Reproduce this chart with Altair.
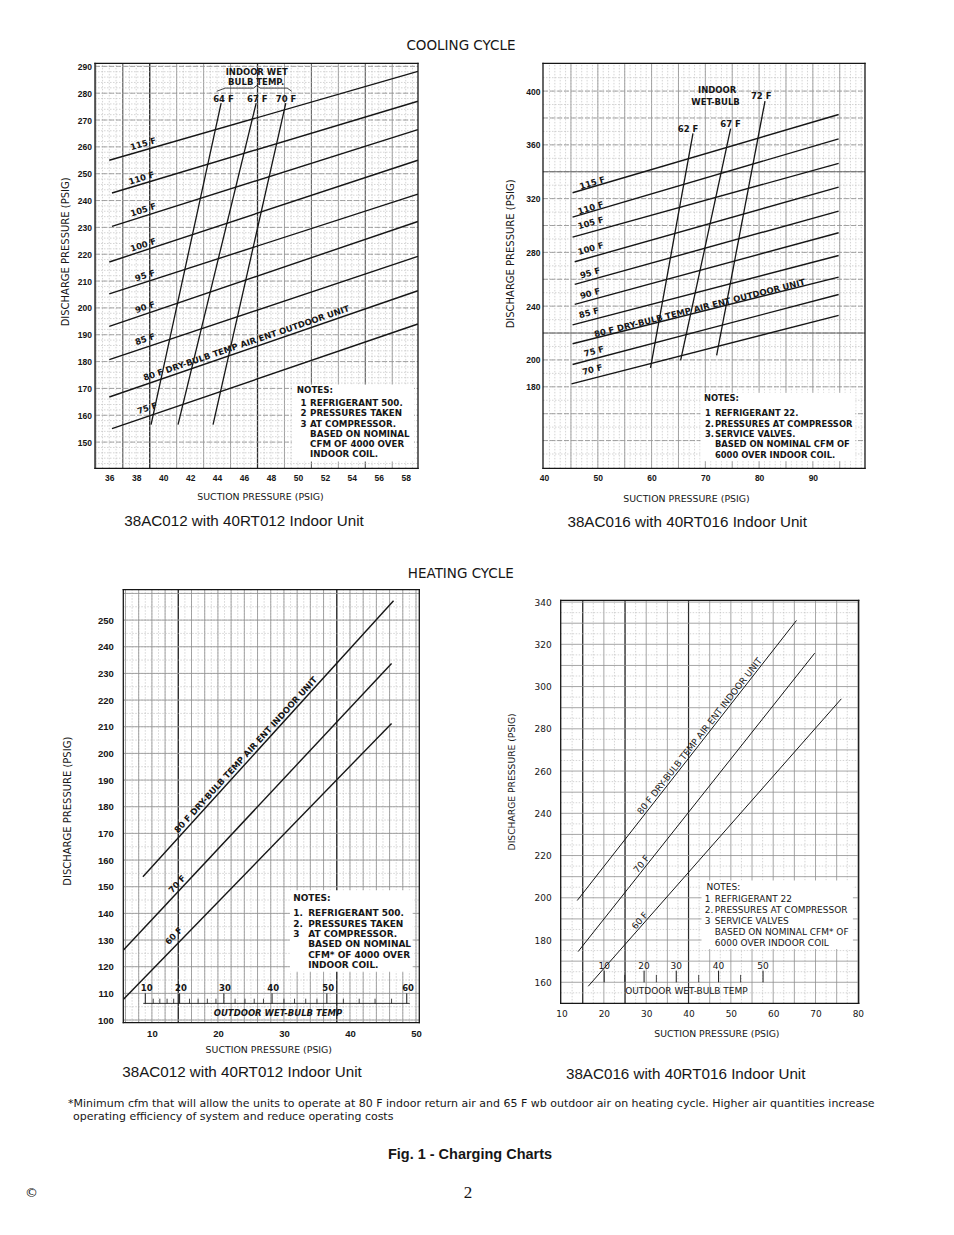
import altair as alt
import pandas as pd

INK = "#161616"
G_MINOR = "#b9b9b9"
G_MID = "#8f8f8f"
G_HEAVY = "#2a2a2a"

# ===================== DATA =====================
# ---- Cooling cycle, 38AC012 with 40RT012 ----
a_xticks = [36, 38, 40, 42, 44, 46, 48, 50, 52, 54, 56, 58]
a_yticks = [150, 160, 170, 180, 190, 200, 210, 220, 230, 240, 250, 260, 270, 280, 290]
a_db_name = ["115 F", "110 F", "105 F", "100 F", "95 F", "90 F", "85 F", "80 F", "75 F"]
a_db_x0 = [36.0, 36.2, 36.2, 36.0, 36.0, 36.0, 36.0, 36.0, 36.2]
a_db_y0 = [255.0, 242.8, 230.4, 217.1, 205.2, 193.1, 180.7, 166.8, 155.0]
a_db_x1 = [58.9, 58.9, 58.9, 58.9, 58.9, 58.9, 58.9, 58.9, 58.9]
a_db_y1 = [288.1, 277.0, 266.4, 255.0, 242.4, 232.2, 219.2, 206.4, 194.0]
a_wb_name = ["64 F", "67 F", "70 F"]
a_wb_x0 = [39.1, 41.1, 43.7]
a_wb_y0 = [156.5, 156.5, 156.5]
a_wb_x1 = [44.3, 46.9, 49.1]
a_wb_y1 = [276.3, 276.3, 276.3]
a_tag_text = ["115 F", "110 F", "105 F", "100 F", "95 F", "90 F", "85 F",
              "80 F DRY-BULB TEMP AIR ENT OUTDOOR UNIT", "75 F"]
a_tag_x = [38.52, 38.40, 38.52, 38.52, 38.65, 38.65, 38.65, 46.17, 38.82]
a_tag_y = [261.2, 248.4, 236.6, 223.5, 212.1, 200.3, 188.4, 186.9, 162.7]
a_tag_ang = [344.0, 343.4, 342.5, 341.8, 342.2, 341.3, 341.6, 341.2, 341.2]
a_wbtag_x = [44.47, 46.99, 49.12]
a_wbtag_y = [277.8, 277.8, 277.8]
a_head_text = ["INDOOR WET", "BULB TEMP."]
a_head_x = [46.94, 46.90]
a_head_y = [287.8, 284.0]
a_brace_x = [43.97, 44.6, 46.7, 46.94, 47.2, 49.2, 49.54]
a_brace_y = [280.7, 281.9, 281.9, 282.8, 281.9, 281.9, 280.7]
a_note_num = ["1", "2", "", "3", "", ""]
a_note_txt = ["REFRIGERANT 500.", "PRESSURES TAKEN", "AT COMPRESSOR.",
              "BASED ON NOMINAL", "CFM OF 4000 OVER", "INDOOR COIL."]

# ---- Cooling cycle, 38AC016 with 40RT016 ----
b_xticks = [40, 50, 60, 70, 80, 90]
b_yticks = [180, 200, 240, 280, 320, 360, 400]
b_db_name = ["115 F", "110 F", "105 F", "100 F", "95 F", "90 F", "85 F", "80 F", "75 F", "70 F"]
b_db_x0 = [45.3, 45.3, 45.3, 45.7, 45.7, 45.7, 45.3, 45.3, 45.3, 45.1]
b_db_y0 = [324.4, 306.2, 291.4, 273.0, 256.2, 241.3, 226.1, 212.0, 196.6, 182.2]
b_db_x1 = [94.8, 94.8, 94.8, 94.8, 94.8, 94.8, 94.8, 94.8, 94.8, 94.8]
b_db_y1 = [382.6, 364.5, 346.2, 328.6, 310.7, 294.6, 277.7, 261.6, 248.7, 233.1]
b_wb_name = ["62 F", "67 F", "72 F"]
b_wb_x0 = [59.8, 65.4, 72.1]
b_wb_y0 = [194.1, 199.6, 203.3]
b_wb_x1 = [67.7, 74.7, 81.1]
b_wb_y1 = [368.5, 372.0, 392.6]
b_tag_text = ["115 F", "110 F", "105 F", "100 F", "95 F", "90 F", "85 F",
              "80 F  DRY-BULB TEMP AIR ENT OUTDOOR UNIT", "75 F", "70 F"]
b_tag_x = [48.98, 48.67, 48.67, 48.67, 48.55, 48.55, 48.36, 68.93, 49.29, 48.98]
b_tag_y = [331.8, 313.2, 302.0, 282.9, 264.8, 249.5, 235.1, 238.6, 206.5, 192.9]
b_tag_ang = [343.6, 343.5, 344.5, 344.2, 344.5, 344.9, 345.4, 346.0, 345.3, 345.6]
b_wbtag_x = [66.8, 74.7, 80.4]
b_wbtag_y = [372.0, 375.7, 396.3]
b_head_text = ["INDOOR", "WET-BULB"]
b_head_x = [72.2, 71.9]
b_head_y = [400.5, 392.1]
b_note_num = ["1", "2.", "", "3.", ""]
b_note_txt = ["REFRIGERANT 22.", "PRESSURES AT COMPRESSOR", "SERVICE VALVES.",
              "BASED ON NOMINAL CFM OF", "6000 OVER INDOOR COIL."]

# ---- Heating cycle, 38AC012 with 40RT012 ----
c_xticks = [10, 20, 30, 40, 50]
c_yticks = [100, 110, 120, 130, 140, 150, 160, 170, 180, 190, 200, 210, 220, 230, 240, 250]
c_db_name = ["80 F", "70 F", "60 F"]
c_db_x0 = [8.64, 5.7, 5.7]
c_db_y0 = [153.75, 126.25, 107.75]
c_db_x1 = [46.6, 46.3, 46.3]
c_db_y1 = [257.25, 233.75, 211.25]
c_tag_text = ["80 F DRY-BULB TEMP AIR ENT INDOOR UNIT", "70 F", "60 F"]
c_tag_x = [24.2, 13.8, 13.3]
c_tag_y = [199.5, 151.0, 131.6]
c_tag_ang = [312.3, 313.1, 314.2]
c_owb_text = ["10", "20", "30", "40", "50", "60"]
c_owb_x = [9.21, 14.4, 21.06, 28.37, 36.7, 48.8]
c_owb_y = [111.9, 111.9, 111.9, 111.9, 111.9, 111.9]
c_owb_tick_x = [9.0, 14.2, 20.9, 28.2, 36.5, 48.6]
c_owb_minor_x = [10.2, 11.2, 12.3, 13.3, 15.7, 17.0, 18.4, 19.7, 22.6, 24.1, 25.5, 26.9,
                 30.0, 31.6, 33.3, 35.0, 39.0, 41.4, 43.8, 46.3]
c_ruler_x = [8.7, 49.06]
c_ruler_y = [106.25, 106.25]
c_note_num = ["1.", "2.", "", "3", "", ""]
c_note_txt = ["REFRIGERANT 500.", "PRESSURES TAKEN", "AT COMPRESSOR.",
              "BASED ON NOMINAL", "CFM* OF 4000 OVER", "INDOOR COIL."]

# ---- Heating cycle, 38AC016 with 40RT016 ----
d_xticks = [10, 20, 30, 40, 50, 60, 70, 80]
d_yticks = [160, 180, 200, 220, 240, 260, 280, 300, 320, 340]
d_db_name = ["80 F", "70 F", "60 F"]
d_db_x0 = [13.7, 13.9, 16.3]
d_db_y0 = [198.7, 174.5, 158.1]
d_db_x1 = [65.5, 69.8, 76.1]
d_db_y1 = [331.3, 315.8, 294.2]
d_tag_text = ["80 F DRY-BULB TEMP AIR ENT INDOOR UNIT", "70 F", "60 F"]
d_tag_x = [42.6, 28.9, 28.5]
d_tag_y = [276.5, 216.0, 189.2]
d_tag_ang = [308.1, 308.6, 311.4]
d_owb_text = ["10", "20", "30", "40", "50"]
d_owb_x = [20.07, 29.5, 37.1, 47.1, 57.6]
d_owb_y = [167.9, 167.9, 167.9, 167.9, 167.9]
d_owb_minor_x = [24.95, 32.4, 42.4, 52.3]
d_note_num = ["1", "2.", "", "3", ""]
d_note_txt = ["REFRIGERANT 22", "PRESSURES AT COMPRESSOR", "SERVICE VALVES",
              "BASED ON NOMINAL CFM* OF", "6000 OVER INDOOR COIL"]

foot_line1 = ("*Minimum cfm that will allow the units to operate at 80 F indoor return air and "
              "65 F wb outdoor air on heating cycle. Higher air quantities increase")
foot_line2 = "operating efficiency of system and reduce operating costs"


# ===================== HELPERS =====================
def frange(a, b, s):
    n = int(round((b - a) / s))
    return [round(a + i * s, 3) for i in range(n + 1)]


def seg_frame(names, x0, y0, x1, y1):
    rows = []
    for i, n in enumerate(names):
        rows.append({"id": f"{i}-{n}", "x": x0[i], "y": y0[i], "o": 0})
        rows.append({"id": f"{i}-{n}", "x": x1[i], "y": y1[i], "o": 1})
    return pd.DataFrame(rows)


def path_frame(name, xs, ys):
    return pd.DataFrame({"id": [name] * len(xs), "x": xs, "y": ys, "o": list(range(len(xs)))})


def txt_frame(texts, xs, ys):
    return pd.DataFrame({"t": texts, "x": xs, "y": ys})


def tag_frame(t, x, y, a):
    return pd.DataFrame({"t": t, "x": x, "y": y, "a": a})


def notes_texts(head_xy, num_x, txt_x, first_y, nums, lines, font, size, weight, lh):
    base = dict(font=font, fontSize=size, fontWeight=weight)
    multi = dict(base, align="left", baseline="top", lineBreak="\n", lineHeight=lh,
                 dy=-round(0.43 * size, 1))
    return [
        (txt_frame(["NOTES:"], [head_xy[0]], [head_xy[1]]), dict(base, align="left", baseline="middle")),
        (txt_frame(["\n".join(nums)], [num_x], [first_y]), multi),
        (txt_frame(["\n".join(lines)], [txt_x], [first_y]), multi),
    ]


def build_panel(p):
    W, H = p["W"], p["H"]
    xoff, yoff = p.get("xoff", 0), p.get("yoff", 0)
    x0, x1 = p["xdom"]
    y0, y1 = p["ydom"]
    sx = alt.Scale(domain=p["xdom"], range=[xoff, xoff + W], nice=False, zero=False)
    sy = alt.Scale(domain=p["ydom"], range=[yoff + H, yoff], nice=False, zero=False)
    common = dict(ticks=False, tickSize=0, domain=False, grid=False,
                  labelFont=p["lfont"], labelFontSize=p["lsize"], labelFontWeight=p["lweight"],
                  labelColor=INK, labelFlush=False, labelOverlap=False,
                  titleFont="DejaVu Sans", titleFontWeight="normal", titleColor=INK,
                  titleAlign="center", titleBaseline="middle")
    ax = alt.Axis(values=p["xticks"], title="SUCTION PRESSURE (PSIG)", labelPadding=p["xlp"],
                  titleFontSize=p["xts"], titleX=p["xt"][0], titleY=p["xt"][1], **common)
    ay = alt.Axis(values=p["yticks"], title="DISCHARGE PRESSURE (PSIG)", labelPadding=p["ylp"],
                  titleFontSize=p["yts"], titleX=p["yt"][0], titleY=p["yt"][1] + yoff,
                  titleAngle=270, offset=-xoff, **common)

    def X():
        return alt.X("x:Q", scale=sx, axis=ax)

    def Y():
        return alt.Y("y:Q", scale=sy, axis=ay)

    layers = []
    for vals, col, w, dash in p["vgrid"]:
        kw = dict(color=col, strokeWidth=w)
        if dash:
            kw["strokeDash"] = dash
        df = pd.DataFrame({"x": vals, "y": [y0] * len(vals), "y2": [y1] * len(vals)})
        layers.append(alt.Chart(df).mark_rule(**kw).encode(x=X(), y=Y(), y2=alt.Y2("y2")))
    for vals, col, w, dash in p["hgrid"]:
        kw = dict(color=col, strokeWidth=w)
        if dash:
            kw["strokeDash"] = dash
        df = pd.DataFrame({"y": vals, "x": [x0] * len(vals), "x2": [x1] * len(vals)})
        layers.append(alt.Chart(df).mark_rule(**kw).encode(y=Y(), x=X(), x2=alt.X2("x2")))
    b = p["box"]
    layers.append(
        alt.Chart(pd.DataFrame({"x": [b[0]], "x2": [b[1]], "y": [b[2]], "y2": [b[3]]}))
        .mark_rect(color="white")
        .encode(x=X(), x2=alt.X2("x2"), y=Y(), y2=alt.Y2("y2"))
    )
    # frame of the plotting area
    layers.append(
        alt.Chart(pd.DataFrame({"x": [x0, x1], "y": [y0, y0], "y2": [y1, y1]}))
        .mark_rule(color=INK, strokeWidth=1.3, strokeCap="square")
        .encode(x=X(), y=Y(), y2=alt.Y2("y2"))
    )
    layers.append(
        alt.Chart(pd.DataFrame({"y": [y0, y1], "x": [x0, x0], "x2": [x1, x1]}))
        .mark_rule(color=INK, strokeWidth=1.3, strokeCap="square")
        .encode(y=Y(), x=X(), x2=alt.X2("x2"))
    )
    for df, w in p["curves"]:
        layers.append(
            alt.Chart(df).mark_line(color=INK, strokeWidth=w)
            .encode(x=X(), y=Y(), detail="id:N", order="o:Q")
        )
    for df, w in p.get("ticks", []):
        layers.append(
            alt.Chart(df).mark_rule(color=INK, strokeWidth=w)
            .encode(x=X(), y=Y(), y2=alt.Y2("y2"))
        )
    layers.append(
        alt.Chart(p["tags"]).mark_text(align="center", baseline="middle", color=INK, **p["tagfont"])
        .encode(x=X(), y=Y(), text="t:N", angle=alt.Angle("a:Q", scale=None))
    )
    for df, kw in p["texts"]:
        layers.append(alt.Chart(df).mark_text(color=INK, **kw).encode(x=X(), y=Y(), text="t:N"))
    cap = p["caption"]
    return alt.layer(*layers).properties(
        width=W + xoff, height=H + yoff,
        view=alt.ViewBackground(strokeOpacity=0, strokeWidth=0),
        title=alt.TitleParams(cap[0], orient="bottom", anchor="middle", frame="group",
                              dx=cap[1], offset=cap[2], baseline="top", font="Liberation Sans",
                              fontSize=15.2, fontWeight="normal", color=INK,
                              subtitleFontSize=1, subtitlePadding=0),
    )


BOLD = dict(font="DejaVu Sans", fontSize=8.5, fontWeight="bold")
CTR = dict(align="center", baseline="middle")

# ===================== PANELS =====================
pA = build_panel(dict(
    W=323, H=405, xdom=[34.94, 58.91], ydom=[140.2, 291.1],
    xticks=a_xticks, yticks=a_yticks,
    lfont="Liberation Sans", lsize=8.5, lweight="bold",
    xlp=5, ylp=3.5, xts=9.4, yts=10, xt=(165, 28), yt=(-30, 188),
    vgrid=[(frange(35, 58.5, 0.5), G_MINOR, 0.6, [1.5, 1.5]),
           (frange(35, 57, 2), G_MID, 0.8, None),
           ([37, 51, 55], "#666666", 1.0, None),
           ([39, 47], G_HEAVY, 1.3, None)],
    hgrid=[(frange(142, 290, 2), G_MINOR, 0.6, [1.5, 1.5]),
           (frange(150, 290, 10), G_MID, 0.8, [5, 2])],
    box=[49.56, 58.62, 142.8, 171.5],
    curves=[(seg_frame(a_db_name, a_db_x0, a_db_y0, a_db_x1, a_db_y1), 1.4),
            (seg_frame(a_wb_name, a_wb_x0, a_wb_y0, a_wb_x1, a_wb_y1), 1.3),
            (path_frame("brace", a_brace_x, a_brace_y), 0.8)],
    tags=tag_frame(a_tag_text, a_tag_x, a_tag_y, a_tag_ang), tagfont=BOLD,
    texts=[(txt_frame(a_head_text, a_head_x, a_head_y), dict(BOLD, **CTR)),
           (txt_frame(a_wb_name, a_wbtag_x, a_wbtag_y), dict(BOLD, **CTR))]
          + notes_texts((49.91, 169.4), 50.19, 50.9, 164.6, a_note_num, a_note_txt,
                        "DejaVu Sans", 8.7, "bold", 10.2),
    caption=("38AC012 with 40RT012 Indoor Unit", -12.5, 12.8),
))

pB = build_panel(dict(
    W=322, H=405, xdom=[39.8, 99.7], ydom=[119.3, 420.6],
    xticks=b_xticks, yticks=b_yticks,
    lfont="Liberation Sans", lsize=8.5, lweight="bold",
    xlp=5, ylp=3, xts=9.4, yts=10, xt=(143, 29.7), yt=(-32, 190),
    vgrid=[(frange(41, 99, 1), G_MINOR, 0.6, [1.5, 1.5]),
           (frange(45, 95, 5), G_MID, 0.8, None)],
    hgrid=[(frange(130, 410, 10), G_MINOR, 0.6, [1.5, 1.5]),
           (frange(140, 400, 20), G_MID, 0.8, [5, 2]),
           ([220, 340], "#6a6a6a", 1.0, None)],
    box=[69.1, 97.9, 124.7, 175.5],
    curves=[(seg_frame(b_db_name, b_db_x0, b_db_y0, b_db_x1, b_db_y1), 1.4),
            (seg_frame(b_wb_name, b_wb_x0, b_wb_y0, b_wb_x1, b_wb_y1), 1.3)],
    tags=tag_frame(b_tag_text, b_tag_x, b_tag_y, b_tag_ang), tagfont=BOLD,
    texts=[(txt_frame(b_head_text, b_head_x, b_head_y), dict(BOLD, **CTR)),
           (txt_frame(b_wb_name, b_wbtag_x, b_wbtag_y), dict(BOLD, **CTR))]
          + notes_texts((69.74, 171.8), 69.92, 71.78, 160.6, b_note_num, b_note_txt,
                        "DejaVu Sans", 8.4, "bold", 10.4),
    caption=("38AC016 with 40RT016 Indoor Unit", -16.8, 12.1),
))

c_ticks_major = pd.DataFrame({"x": c_owb_tick_x, "y": [106.25] * len(c_owb_tick_x),
                              "y2": [110.0] * len(c_owb_tick_x)})
c_ticks_minor = pd.DataFrame({"x": c_owb_minor_x, "y": [106.25] * len(c_owb_minor_x),
                              "y2": [108.0] * len(c_owb_minor_x)})
pC = build_panel(dict(
    W=296, H=433, xoff=28.3, xdom=[5.67, 50.5], ydom=[99.0, 261.4],
    xticks=c_xticks, yticks=c_yticks,
    lfont="Liberation Sans", lsize=9.5, lweight="bold",
    xlp=6.2, ylp=10, xts=9.4, yts=10, xt=(173.3, 27), yt=(-56.3, 221),
    vgrid=[(frange(6, 50, 1), G_MINOR, 0.6, [1.5, 1.5]),
           (frange(6, 50, 2), G_MID, 0.8, None),
           ([14, 38], G_HEAVY, 1.3, None)],
    hgrid=[(frange(100, 260, 5), G_MINOR, 0.6, [1.5, 1.5]),
           (frange(100, 260, 10), G_MID, 0.8, None)],
    box=[30.9, 49.5, 118.1, 148.7],
    curves=[(seg_frame(c_db_name, c_db_x0, c_db_y0, c_db_x1, c_db_y1), 1.4),
            (path_frame("ruler", c_ruler_x, c_ruler_y), 0.9)],
    ticks=[(c_ticks_major, 1.0), (c_ticks_minor, 0.8)],
    tags=tag_frame(c_tag_text, c_tag_x, c_tag_y, c_tag_ang), tagfont=BOLD,
    texts=[(txt_frame(c_owb_text, c_owb_x, c_owb_y), dict(BOLD, **CTR)),
           (txt_frame(["OUTDOOR WET-BULB TEMP"], [29.1], [102.8]),
            dict(BOLD, fontStyle="italic", **CTR))]
          + notes_texts((31.4, 145.6), 31.4, 33.67, 140.0, c_note_num, c_note_txt,
                        "DejaVu Sans", 9, "bold", 10.3),
    caption=("38AC012 with 40RT012 Indoor Unit", -15.15, 11.2),
))

REG = dict(font="DejaVu Sans", fontSize=9, fontWeight="normal")
d_ticks_major = pd.DataFrame({"x": d_owb_x, "y": [160.0] * len(d_owb_x),
                              "y2": [165.5] * len(d_owb_x)})
d_ticks_minor = pd.DataFrame({"x": d_owb_minor_x, "y": [160.0] * len(d_owb_minor_x),
                              "y2": [163.5] * len(d_owb_minor_x)})
pD = build_panel(dict(
    W=298, H=403, yoff=10.7, xdom=[9.8, 80.2], ydom=[150.0, 340.8],
    xticks=d_xticks, yticks=d_yticks,
    lfont="DejaVu Sans", lsize=9, lweight="normal",
    xlp=5.8, ylp=9.5, xts=9.3, yts=9.2, xt=(155.7, 30.3), yt=(-49.3, 181),
    vgrid=[(frange(12.5, 77.5, 5), G_MINOR, 0.6, [1.5, 1.5]),
           (frange(15, 80, 5), G_MID, 0.8, None),
           ([15, 25, 40], G_HEAVY, 1.2, None)],
    hgrid=[(frange(155, 335, 10), G_MINOR, 0.6, [1.5, 1.5]),
           (frange(160, 340, 10), G_MID, 0.8, None)],
    box=[43.07, 78.83, 175.8, 208.2],
    curves=[(seg_frame(d_db_name, d_db_x0, d_db_y0, d_db_x1, d_db_y1), 1.0)],
    ticks=[(d_ticks_major, 1.0), (d_ticks_minor, 0.8)],
    tags=tag_frame(d_tag_text, d_tag_x, d_tag_y, d_tag_ang), tagfont=REG,
    texts=[(txt_frame(d_owb_text, d_owb_x, d_owb_y), dict(REG, **CTR)),
           (txt_frame(["OUTDOOR WET-BULB TEMP"], [39.5], [156.0]), dict(REG, **CTR))]
          + notes_texts((44.25, 205.3), 43.84, 46.2, 199.5, d_note_num, d_note_txt,
                        "DejaVu Sans", 9, "normal", 11.1),
    caption=("38AC016 with 40RT016 Indoor Unit", -24, 28.3),
))

# ===================== LAYOUT =====================
def row_title(text, offset):
    return alt.TitleParams(text, anchor="middle", frame="bounds", dx=-2, offset=offset,
                           baseline="bottom", font="DejaVu Sans", fontSize=13.5,
                           fontWeight="normal", color=INK, subtitleFontSize=1, subtitlePadding=0)


row1 = alt.hconcat(pA, pB, spacing=85.0).properties(title=row_title("COOLING CYCLE", -3.9))
row2 = alt.hconcat(pC, pD, spacing=84.7).properties(title=row_title("HEATING CYCLE", -5.3))
charts = alt.vconcat(row1, row2, spacing=35.3)

one = pd.DataFrame({"k": [0]})
foot = alt.layer(
    alt.Chart(one).mark_text(text=foot_line1, align="left", baseline="top", font="DejaVu Sans",
                             fontSize=11, color=INK)
    .encode(x=alt.value(-27), y=alt.value(0)),
    alt.Chart(one).mark_text(text=foot_line2, align="left", baseline="top", font="DejaVu Sans",
                             fontSize=11, color=INK)
    .encode(x=alt.value(-22), y=alt.value(13)),
    alt.Chart(one).mark_text(text="Fig. 1 - Charging Charts", align="center", baseline="middle",
                             font="Liberation Sans", fontSize=14.5, fontWeight="bold", color=INK)
    .encode(x=alt.value(375), y=alt.value(57.7)),
    alt.Chart(one).mark_text(text="\u00a9", align="left", baseline="middle",
                             font="DejaVu Sans", fontSize=13, color=INK)
    .encode(x=alt.value(-70), y=alt.value(95.7)),
    alt.Chart(one).mark_text(text="2", align="center", baseline="middle",
                             font="Liberation Serif", fontSize=17, color=INK)
    .encode(x=alt.value(373), y=alt.value(95.7)),
).properties(width=600, height=100,
             view=alt.ViewBackground(strokeOpacity=0, strokeWidth=0))

chart = (
    alt.vconcat(charts, foot, spacing=14.3)
    .properties(padding={"left": 17, "top": 30.4, "right": 5, "bottom": 5})
    .configure(background="white")
)

chart.save("out.html", embed_options={"renderer": "svg", "actions": False})
